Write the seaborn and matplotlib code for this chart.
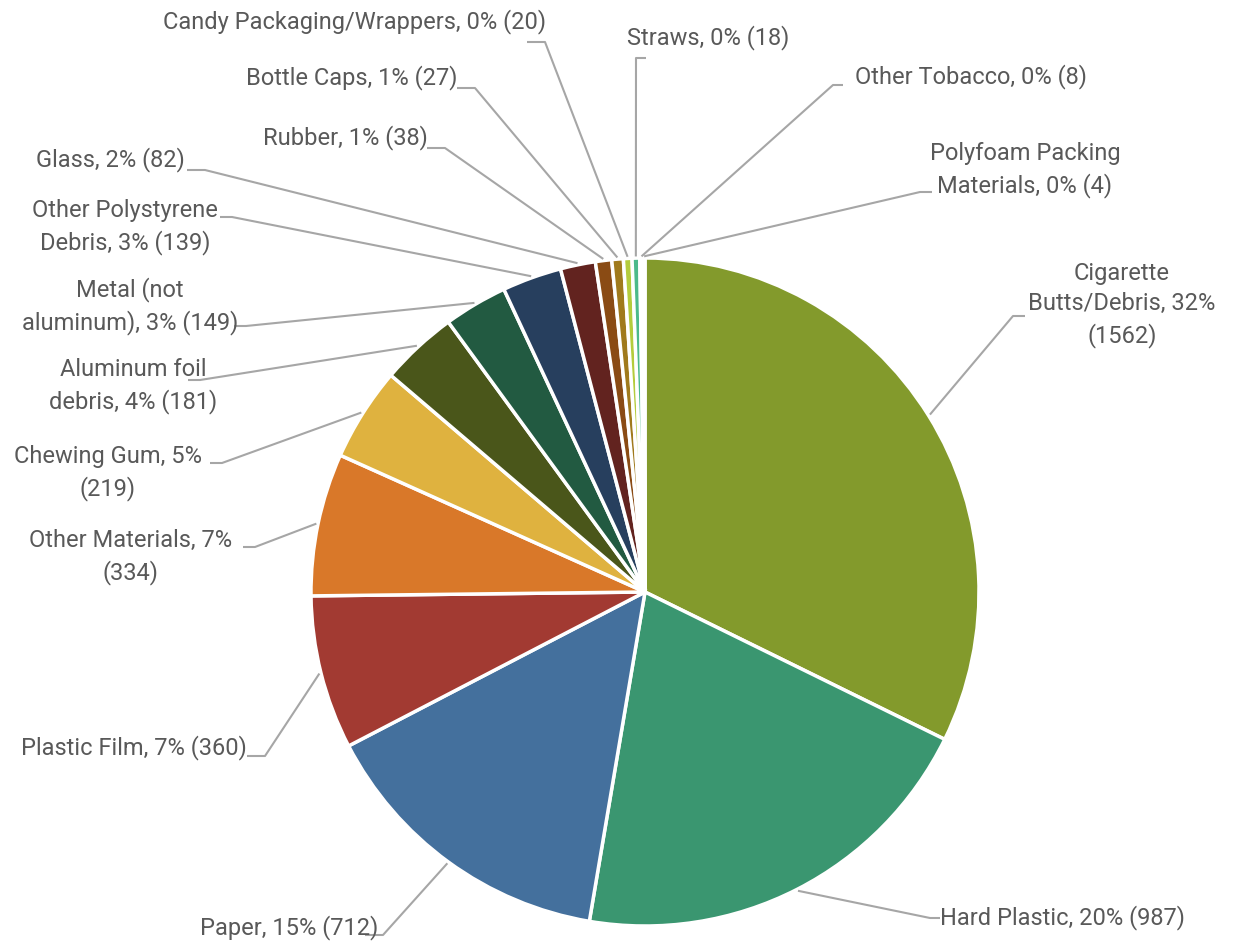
import numpy as np
import matplotlib
matplotlib.use("Agg")
import matplotlib.pyplot as plt
import seaborn as sns

# data
categories = ["Cigarette Butts/Debris", "Hard Plastic", "Paper", "Plastic Film",
              "Other Materials", "Chewing Gum", "Aluminum foil debris",
              "Metal (not aluminum)", "Other Polystyrene Debris", "Glass", "Rubber",
              "Bottle Caps", "Candy Packaging/Wrappers", "Straws", "Other Tobacco",
              "Polyfoam Packing Materials"]
counts = [1562, 987, 712, 360, 334, 219, 181, 149, 139, 82, 38, 27, 20, 18, 8, 4]
label_texts = ["Cigarette\nButts/Debris, 32%\n(1562)", "Hard Plastic, 20% (987)",
               "Paper, 15% (712)", "Plastic Film, 7% (360)", "Other Materials, 7%\n(334)",
               "Chewing Gum, 5%\n(219)", "Aluminum foil\ndebris, 4% (181)",
               "Metal (not\naluminum), 3% (149)", "Other Polystyrene\nDebris, 3% (139)",
               "Glass, 2% (82)", "Rubber, 1% (38)", "Bottle Caps, 1% (27)",
               "Candy Packaging/Wrappers, 0% (20)", "Straws, 0% (18)",
               "Other Tobacco, 0% (8)", "Polyfoam Packing\nMaterials, 0% (4)"]
colors = ["#839A2C", "#3A9670", "#44709D", "#A23A32", "#D97829", "#DFB23F",
          "#4A561A", "#225A41", "#273F5E", "#62231F", "#8A4B14", "#A07A1C",
          "#B4CC3C", "#4CBA8A", "#6A9ACB", "#D46C63"]

# label layout in pixel coords: text x, text y (center), ha, elbow x, elbow y
layout = [
    (1122, 305, "center", 1013, 316),
    (940, 918, "left", 930, 918),
    (378, 928, "right", 383, 935),
    (247, 748, "right", 265, 756),
    (131, 557, "center", 255, 547),
    (108, 473, "center", 222, 463),
    (133, 386, "center", 200, 380),
    (130, 306, "center", 246, 326),
    (125, 227, "center", 232, 217),
    (185, 160, "right", 205, 170),
    (428, 138, "right", 445, 148),
    (458, 78, "right", 475, 88),
    (546, 22, "right", 545, 42),
    (627, 38, "left", 636, 58),
    (855, 77, "left", 833, 85),
    (1025, 170, "center", 920, 192),
]

W, H = 1242, 941
cx, cy, r = 645, H - 592, 334

sns.set_theme(style="white")
plt.rcParams['font.family'] = ['Roboto', 'DejaVu Sans']

fig = plt.figure(figsize=(W / 100, H / 100), dpi=100)
ax = fig.add_axes([0, 0, 1, 1])

wedges, _ = ax.pie(counts, colors=colors, startangle=90, counterclock=False,
                   center=(cx, cy), radius=r, frame=True,
                   wedgeprops=dict(edgecolor="white", linewidth=2.5))
ax.set_xlim(0, W)
ax.set_ylim(0, H)
ax.set_aspect("equal")
ax.axis("off")

line_col = "#A6A6A6"
text_col = "#595959"
for w, txt, (tx, ty, ha, ex, ey) in zip(wedges, label_texts, layout):
    ang = np.deg2rad((w.theta1 + w.theta2) / 2)
    ax_ = cx + r * 1.005 * np.cos(ang)
    ay_ = cy + r * 1.005 * np.sin(ang)
    ey_d = H - ey
    # short horizontal stub towards the text
    if ha == "right":
        sx = ex - 18
    elif ha == "left":
        sx = ex + 10
    else:
        sx = ex + 12 if ex > cx else ex - 12
    ax.plot([ax_, ex, sx], [ay_, ey_d, ey_d], color=line_col, lw=1.5,
            solid_capstyle="butt", zorder=1)
    ax.text(tx, H - ty, txt, ha=ha, va="center", fontsize=17, color=text_col,
            linespacing=1.42, multialignment="center")

fig.savefig("out.png", dpi=100)
